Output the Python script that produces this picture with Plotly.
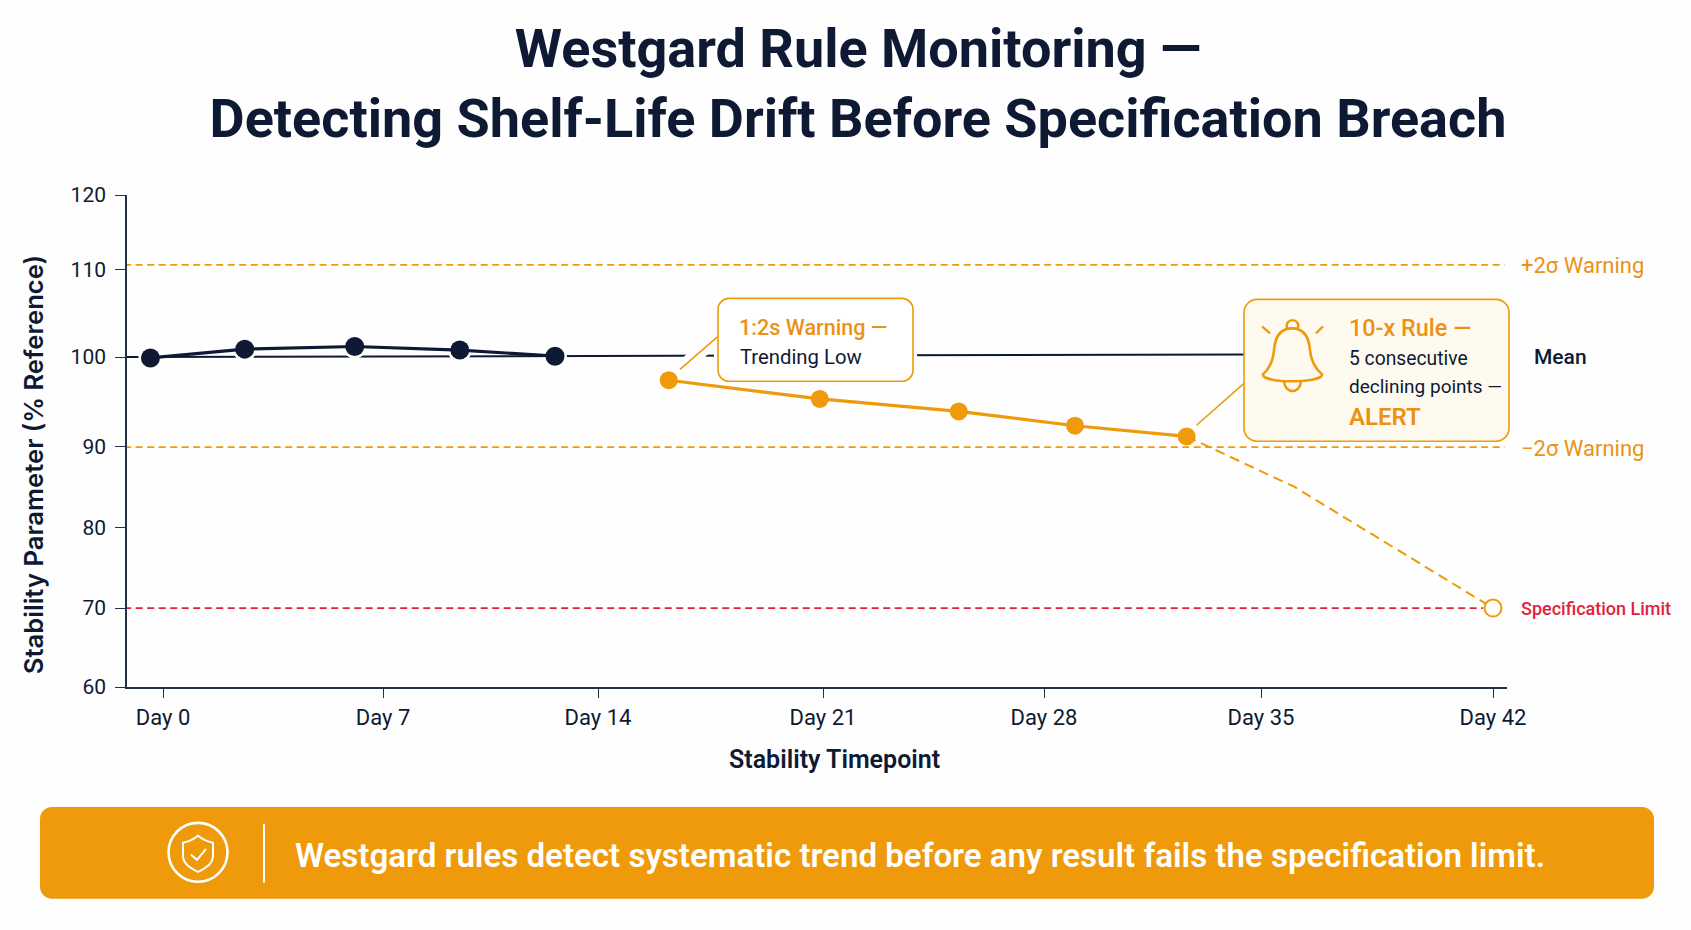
import numpy as np
import plotly.graph_objects as go

# Chart content
TITLE = "Westgard Rule Monitoring —<br>Detecting Shelf-Life Drift Before Specification Breach"
DAY_TICKS = [0, 7, 14, 21, 28, 35, 42]
DAY_LABELS = ["Day 0", "Day 7", "Day 14", "Day 21", "Day 28", "Day 35", "Day 42"]
VALUE_TICKS = [60, 70, 80, 90, 100, 110, 120]

stable_days = [-0.4, 2.6, 6.1, 9.5, 12.6]
stable_values = [99.9, 100.9, 101.2, 100.8, 100.1]
drift_days = [16.2, 20.9, 25.3, 29.0, 32.6]
drift_values = [97.4, 95.3, 93.9, 92.3, 91.1]
projection_days = [32.6, 36.0, 42.0]
projection_values = [91.1, 85.0, 70.0]
mean_days = [-1.2, 14.0, 28.0, 34.6]
mean_values = [100.0, 100.1, 100.2, 100.3]
upper_warning = 110.6
lower_warning = 89.9
spec_limit = 70.0

# The printed axes are not evenly spaced, so each axis runs through a
# piecewise scale whose anchors sit at the tick values.
DAY_SCALE = [163, 383, 598, 823, 1044, 1261, 1493]
VALUE_SCALE = [687, 608, 527, 446, 356.7, 269, 194.5]
X0, X1 = 127, 1507
Y0, Y1 = 687, 194.5
W, H = 1691, 930
FONT = "Roboto"


def sx(days):
    d = np.asarray(days, dtype=float)
    left = (DAY_SCALE[1] - DAY_SCALE[0]) / 7
    right = (DAY_SCALE[-1] - DAY_SCALE[-2]) / 7
    out = np.interp(d, DAY_TICKS, DAY_SCALE)
    out = np.where(d < 0, DAY_SCALE[0] + d * left, out)
    return np.where(d > 42, DAY_SCALE[-1] + (d - 42) * right, out)


def sy(values):
    return np.interp(values, VALUE_TICKS, VALUE_SCALE)


# Page pixels to paper fractions of the plot area
def px(x):
    return (x - X0) / (X1 - X0)


def py(y):
    return (Y0 - y) / (Y0 - Y1)


def path(*parts):
    out = []
    for part in parts:
        if isinstance(part, str):
            out.append(part)
        else:
            out.append(f"{px(part[0]):.5f},{py(part[1]):.5f}")
    return " ".join(out)


def rounded(x0, y0, x1, y1, r):
    k = r * 0.45
    return path("M", (x0 + r, y0), "L", (x1 - r, y0),
                "C", (x1 - k, y0), (x1, y0 + k), (x1, y0 + r),
                "L", (x1, y1 - r),
                "C", (x1, y1 - k), (x1 - k, y1), (x1 - r, y1),
                "L", (x0 + r, y1),
                "C", (x0 + k, y1), (x0, y1 - k), (x0, y1 - r),
                "L", (x0, y0 + r),
                "C", (x0, y0 + k), (x0 + k, y0), (x0 + r, y0), "Z")


def page_line(x0, y0, x1, y1, color, width):
    return dict(type="line", xref="paper", yref="paper", x0=px(x0), x1=px(x1),
                y0=py(y0), y1=py(y1), line=dict(color=color, width=width))


def page_path(d, color, width, fill="rgba(0,0,0,0)"):
    return dict(type="path", xref="paper", yref="paper", path=d, fillcolor=fill,
                line=dict(color=color, width=width))


def page_circle(cx, cy, r, color, width):
    return dict(type="circle", xref="paper", yref="paper", x0=px(cx - r), x1=px(cx + r),
                y0=py(cy - r), y1=py(cy + r), line=dict(color=color, width=width))


def label(x, y, text, size, color, weight=400, anchor="left", angle=0, family=FONT):
    return dict(xref="paper", yref="paper", x=px(x), y=py(y), text=text, showarrow=False,
                xanchor=anchor, yanchor="middle", align=anchor, textangle=angle,
                font=dict(family=family, size=size, color=color, weight=weight))


NAVY = "#0E1A33"
AXIS = "#22304A"
AMBER = "#EE9A0B"
AMBER_TEXT = "#EB9216"
RED = "#E21F3C"

fig = go.Figure()


def hline(value, color, last_day=42.35):
    fig.add_trace(go.Scatter(x=sx([-1.6, last_day]), y=sy([value, value]), mode="lines",
                             line=dict(color=color, width=1.8, dash="7px,4.5px"),
                             hoverinfo="skip", showlegend=False))


hline(upper_warning, AMBER)
hline(lower_warning, AMBER)
hline(spec_limit, RED, last_day=41.7)

fig.add_trace(go.Scatter(x=sx(mean_days), y=sy(mean_values), mode="lines", name="Mean",
                         line=dict(color=NAVY, width=2), showlegend=False))
# White halos lift the markers clear of the mean line
fig.add_trace(go.Scatter(x=sx(stable_days), y=sy(stable_values), mode="markers",
                         marker=dict(size=24, color="#FFFFFF"), hoverinfo="skip", showlegend=False))
fig.add_trace(go.Scatter(x=sx(stable_days), y=sy(stable_values), mode="lines+markers",
                         line=dict(color=NAVY, width=3.2), marker=dict(size=19, color=NAVY),
                         showlegend=False))
fig.add_trace(go.Scatter(x=sx(projection_days), y=sy(projection_values), mode="lines",
                         line=dict(color=AMBER, width=2, dash="10px,6px"), showlegend=False))
fig.add_trace(go.Scatter(x=sx(drift_days), y=sy(drift_values), mode="lines+markers",
                         line=dict(color=AMBER, width=3.2), marker=dict(size=18, color=AMBER),
                         showlegend=False))
fig.add_trace(go.Scatter(x=sx(projection_days[-1:]), y=sy(projection_values[-1:]), mode="markers",
                         marker=dict(size=17, color="#FFFFFF", line=dict(color=AMBER, width=2)),
                         showlegend=False))

shapes = [
    # Callout: 1:2s warning
    page_line(680, 369, 718, 336, "#FFFFFF", 14),
    page_path(rounded(714, 294, 917, 385, 12), "#FFFFFF", 0, "#FFFFFF"),
    page_line(680, 369, 718, 336, AMBER, 1.6),
    page_path(rounded(718, 298, 913, 381, 11), AMBER, 1.6, "#FFFFFF"),
    # Callout: 10-x rule
    page_line(1196.5, 425, 1244, 383, AMBER, 1.6),
    page_path(rounded(1244, 299, 1509, 441, 13), AMBER, 1.6, "#FFFAF0"),
    # Bell
    page_path(path("M", (1263, 374),
                   "C", (1270, 368), (1273, 360), (1274, 350),
                   "C", (1275, 336), (1280, 328), (1292, 328),
                   "C", (1304, 328), (1309, 336), (1310, 350),
                   "C", (1311, 360), (1315, 368), (1322, 374),
                   "C", (1323, 379), (1305, 381), (1292, 381),
                   "C", (1279, 381), (1262, 379), (1263, 374), "Z"), AMBER, 2.6),
    page_path(path("M", (1287, 328), "C", (1284, 317), (1301, 317), (1298, 328)), AMBER, 2.4),
    page_path(path("M", (1284, 381), "C", (1285, 394), (1300, 394), (1301, 381)), AMBER, 2.4),
    page_line(1262, 326, 1270, 333, AMBER, 2.2),
    page_line(1323, 326, 1316, 333, AMBER, 2.2),
    # Takeaway banner
    page_path(rounded(40, 807, 1654, 899, 12), AMBER, 0, AMBER),
    page_circle(198, 852.5, 29.5, "#FFFFFF", 2.6),
    page_path(path("M", (198, 836), "C", (204, 841), (208, 842), (213, 843),
                   "L", (213, 856), "C", (213, 864), (205, 869), (198, 872),
                   "C", (191, 869), (183, 864), (183, 856),
                   "L", (183, 843), "C", (188, 842), (192, 841), (198, 836), "Z"), "#FFFFFF", 2),
    page_path(path("M", (191, 855), "L", (197, 860), "L", (206, 849)), "#FFFFFF", 2),
    page_line(264, 824, 264, 883, "#FFFFFF", 2),
]

annotations = [
    label(1519, 265, "+2σ Warning", 22, AMBER_TEXT),
    label(1519, 448, "−2σ Warning", 22, AMBER_TEXT),
    label(1532, 357, "Mean", 21, NAVY, 500),
    label(1519, 608, "Specification Limit", 18, RED, 500),
    label(737, 327, "1:2s Warning —", 21.6, AMBER_TEXT, 500),
    label(738, 357, "Trending Low", 20.3, NAVY),
    label(1347, 328, "10-x Rule —", 23.4, AMBER_TEXT, 500),
    label(1347, 358, "5 consecutive", 19.3, NAVY),
    label(1347, 386, "declining points —", 19, NAVY),
    label(1347, 417, "ALERT", 24, AMBER_TEXT, 600),
    label(293, 856, "Westgard rules detect systematic trend before any result fails the specification limit.",
          33.1, "#FFFFFF", 600),
    label(834, 760, "Stability Timepoint", 25, NAVY, 600, anchor="center"),
    label(33, 465, "Stability Parameter (% Reference)", 25.6, NAVY, 600, anchor="center", angle=-90,
          family="Inter"),
]

fig.update_layout(
    width=W, height=H, autosize=False,
    margin=dict(l=X0, r=W - X1, t=Y1, b=H - Y0, pad=0),
    paper_bgcolor="#FEFEFE", plot_bgcolor="#FEFEFE", showlegend=False,
    title=dict(text=TITLE, x=858 / W, xanchor="center", y=1 - 67 / H, yanchor="middle",
               font=dict(family=FONT, size=54, color=NAVY, weight=700)),
    shapes=shapes, annotations=annotations,
    xaxis=dict(range=[X0, X1], tickmode="array", tickvals=sx(DAY_TICKS), ticktext=DAY_LABELS,
               ticks="outside", ticklen=9, tickwidth=1.4, tickcolor=AXIS, showgrid=False, zeroline=False,
               showline=True, linecolor=AXIS, linewidth=1.6, ticklabelstandoff=1,
               tickfont=dict(family=FONT, size=22, color=NAVY)),
    yaxis=dict(range=[Y0, Y1], tickmode="array", tickvals=sy(VALUE_TICKS),
               ticktext=[str(v) for v in VALUE_TICKS],
               ticks="outside", ticklen=10, tickwidth=1.4, tickcolor=AXIS, showgrid=False, zeroline=False,
               showline=True, linecolor=AXIS, linewidth=1.6, ticklabelstandoff=5,
               tickfont=dict(family=FONT, size=21, color=NAVY)),
)

fig.write_html("out.html")
